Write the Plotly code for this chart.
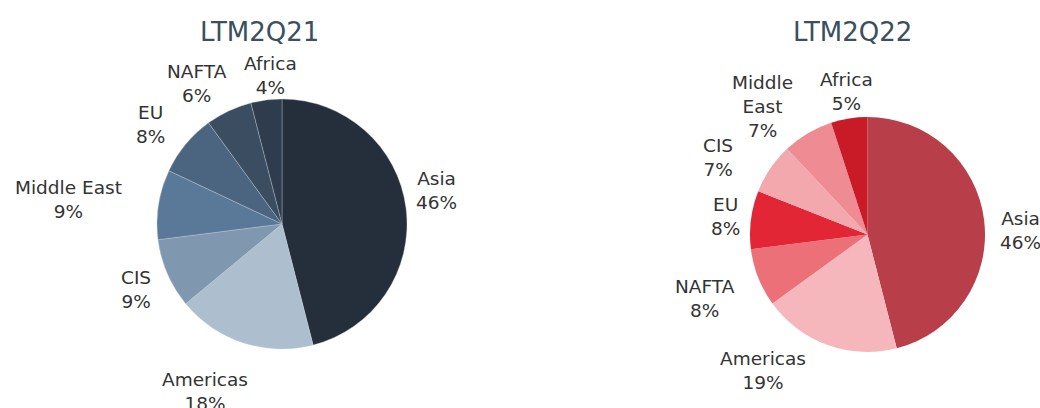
import plotly.graph_objects as go

# Data
regions_21 = ["Asia", "Americas", "CIS", "Middle East", "EU", "NAFTA", "Africa"]
values_21 = [46, 18, 9, 9, 8, 6, 4]
colors_21 = ["#252f3c", "#adbfce", "#7f98b0", "#5a7898", "#4b6580", "#3b4d60", "#2e3c4d"]

regions_22 = ["Asia", "Americas", "NAFTA", "EU", "CIS", "Middle East", "Africa"]
values_22 = [46, 19, 8, 8, 7, 7, 5]
colors_22 = ["#b83e4a", "#f5b6bc", "#ec7078", "#e32636", "#f3a8ae", "#ef8b92", "#c91a27"]

titles = ["LTM2Q21", "LTM2Q22"]

# Layout: label text (wrapping) and label centre positions in pixels (x, y from top)
W, H = 1040, 408
wrap_22 = {"Middle East": "Middle<br>East"}
label_pos_21 = {"Asia": (436, 190), "Americas": (205, 391), "CIS": (136, 289),
                "Middle East": (68, 199), "EU": (150, 124), "NAFTA": (197, 84),
                "Africa": (270, 75)}
label_pos_22 = {"Asia": (1020, 230), "Americas": (763, 370), "NAFTA": (705, 298),
                "EU": (725, 216), "CIS": (718, 157), "Middle East": (762, 107),
                "Africa": (846, 92)}

FONT = "DejaVu Sans"
LABEL_SIZE = 18.5
fig = go.Figure()

fig.add_trace(go.Pie(
    labels=regions_21, values=values_21,
    sort=False, direction="clockwise", rotation=0,
    marker=dict(colors=colors_21, line=dict(color="rgba(200,210,220,0.6)", width=0.6)),
    textinfo="none",
    domain=dict(x=[157/W, 407/W], y=[1-349/H, 1-99/H]),
    showlegend=False, hoverinfo="label+percent",
))

fig.add_trace(go.Pie(
    labels=regions_22, values=values_22,
    sort=False, direction="clockwise", rotation=0,
    marker=dict(colors=colors_22, line=dict(width=0)),
    textinfo="none",
    domain=dict(x=[750/W, 985/W], y=[1-352/H, 1-117/H]),
    showlegend=False, hoverinfo="label+percent",
))

def add_labels(regions, values, positions, wrap):
    total = sum(values)
    for r, v in zip(regions, values):
        x, y = positions[r]
        txt = f"{wrap.get(r, r)}<br>{round(100 * v / total)}%"
        fig.add_annotation(text=txt, x=x/W, y=1-y/H, xref="paper", yref="paper",
                           showarrow=False, xanchor="center", yanchor="middle",
                           align="center",
                           font=dict(family=FONT, size=LABEL_SIZE, color="#333333"))

add_labels(regions_21, values_21, label_pos_21, {})
add_labels(regions_22, values_22, label_pos_22, wrap_22)

for t, x in zip(titles, [259/W, 852/W]):
    fig.add_annotation(text=t, x=x, y=1-32/H, xref="paper", yref="paper",
                       showarrow=False, xanchor="center", yanchor="middle",
                       font=dict(family=FONT, size=26, color="#3d4f5f"))

fig.update_layout(
    width=W, height=H,
    margin=dict(l=0, r=0, t=0, b=0),
    paper_bgcolor="white", plot_bgcolor="white",
)

fig.write_html("out.html")
